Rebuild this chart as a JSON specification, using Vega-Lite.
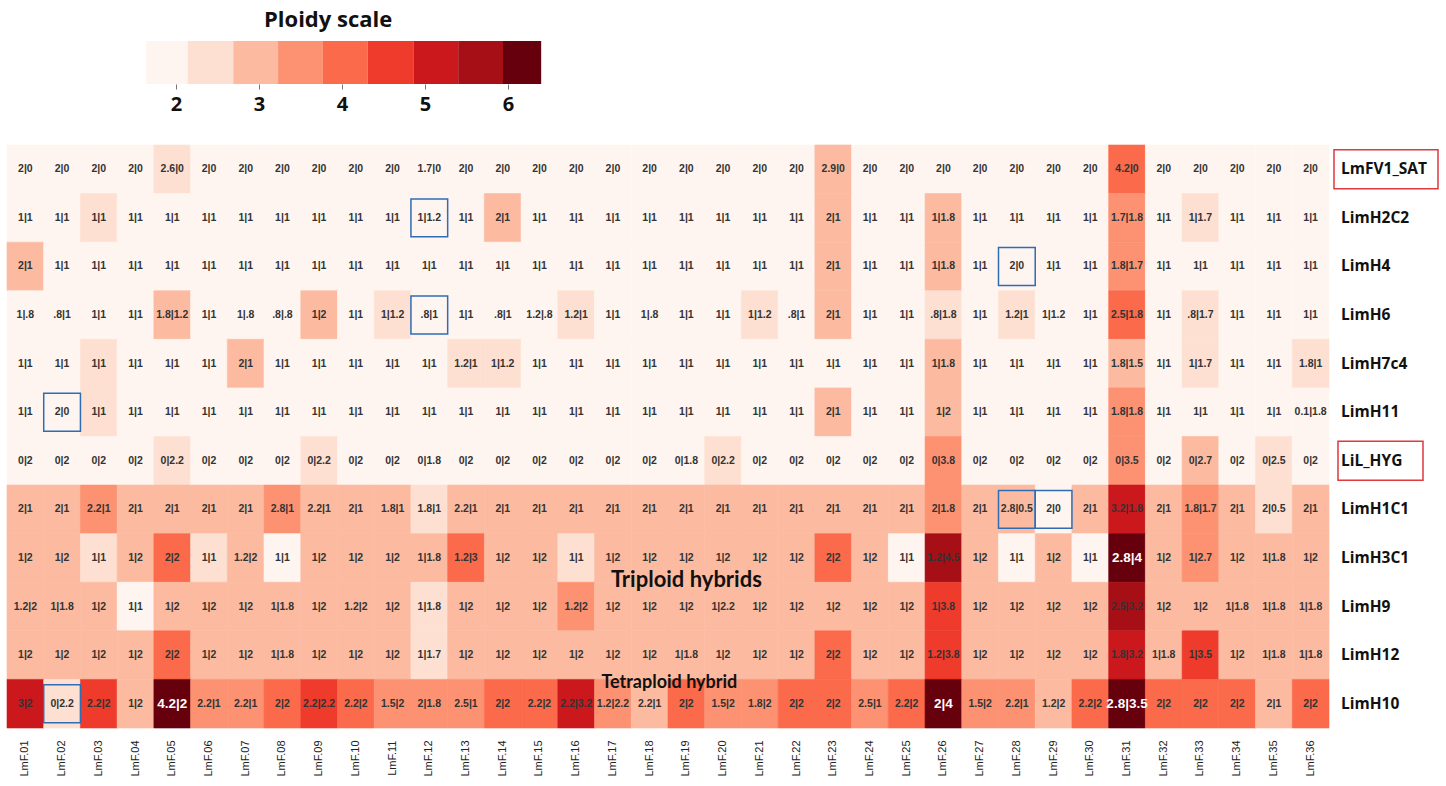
{
"$schema": "https://vega.github.io/schema/vega-lite/v6.json",
"padding": {"left": 6, "top": 9, "right": 0, "bottom": 0},
"background": "white",
"config": {"view": {"stroke": null}},
"spacing": 30,
"datasets": {
"legendbins": [
{"from":1.64,"to":2.14,"ploidy":1.9},{"from":2.14,"to":2.69,"ploidy":2.4},{"from":2.69,"to":3.23,"ploidy":2.96},
{"from":3.23,"to":3.77,"ploidy":3.5},{"from":3.77,"to":4.31,"ploidy":4.04},{"from":4.31,"to":4.86,"ploidy":4.6},
{"from":4.86,"to":5.4,"ploidy":5.13},{"from":5.4,"to":5.94,"ploidy":5.67},{"from":5.94,"to":6.4,"ploidy":6.17}],
"strains": [{"strain":"LmFV1_SAT"},{"strain":"LimH2C2"},{"strain":"LimH4"},{"strain":"LimH6"},{"strain":"LimH7c4"},{"strain":"LimH11"},{"strain":"LiL_HYG"},{"strain":"LimH1C1"},{"strain":"LimH3C1"},{"strain":"LimH9"},{"strain":"LimH12"},{"strain":"LimH10"}],
"cells": [
{"strain":"LmFV1_SAT","sample":"LmF.01","label":"2|0","ploidy":2},{"strain":"LmFV1_SAT","sample":"LmF.02","label":"2|0","ploidy":2},{"strain":"LmFV1_SAT","sample":"LmF.03","label":"2|0","ploidy":2},{"strain":"LmFV1_SAT","sample":"LmF.04","label":"2|0","ploidy":2},{"strain":"LmFV1_SAT","sample":"LmF.05","label":"2.6|0","ploidy":2.6},{"strain":"LmFV1_SAT","sample":"LmF.06","label":"2|0","ploidy":2},{"strain":"LmFV1_SAT","sample":"LmF.07","label":"2|0","ploidy":2},{"strain":"LmFV1_SAT","sample":"LmF.08","label":"2|0","ploidy":2},{"strain":"LmFV1_SAT","sample":"LmF.09","label":"2|0","ploidy":2},{"strain":"LmFV1_SAT","sample":"LmF.10","label":"2|0","ploidy":2},{"strain":"LmFV1_SAT","sample":"LmF.11","label":"2|0","ploidy":2},{"strain":"LmFV1_SAT","sample":"LmF.12","label":"1.7|0","ploidy":1.7},
{"strain":"LmFV1_SAT","sample":"LmF.13","label":"2|0","ploidy":2},{"strain":"LmFV1_SAT","sample":"LmF.14","label":"2|0","ploidy":2},{"strain":"LmFV1_SAT","sample":"LmF.15","label":"2|0","ploidy":2},{"strain":"LmFV1_SAT","sample":"LmF.16","label":"2|0","ploidy":2},{"strain":"LmFV1_SAT","sample":"LmF.17","label":"2|0","ploidy":2},{"strain":"LmFV1_SAT","sample":"LmF.18","label":"2|0","ploidy":2},{"strain":"LmFV1_SAT","sample":"LmF.19","label":"2|0","ploidy":2},{"strain":"LmFV1_SAT","sample":"LmF.20","label":"2|0","ploidy":2},{"strain":"LmFV1_SAT","sample":"LmF.21","label":"2|0","ploidy":2},{"strain":"LmFV1_SAT","sample":"LmF.22","label":"2|0","ploidy":2},{"strain":"LmFV1_SAT","sample":"LmF.23","label":"2.9|0","ploidy":2.9},{"strain":"LmFV1_SAT","sample":"LmF.24","label":"2|0","ploidy":2},
{"strain":"LmFV1_SAT","sample":"LmF.25","label":"2|0","ploidy":2},{"strain":"LmFV1_SAT","sample":"LmF.26","label":"2|0","ploidy":2},{"strain":"LmFV1_SAT","sample":"LmF.27","label":"2|0","ploidy":2},{"strain":"LmFV1_SAT","sample":"LmF.28","label":"2|0","ploidy":2},{"strain":"LmFV1_SAT","sample":"LmF.29","label":"2|0","ploidy":2},{"strain":"LmFV1_SAT","sample":"LmF.30","label":"2|0","ploidy":2},{"strain":"LmFV1_SAT","sample":"LmF.31","label":"4.2|0","ploidy":4.2},{"strain":"LmFV1_SAT","sample":"LmF.32","label":"2|0","ploidy":2},{"strain":"LmFV1_SAT","sample":"LmF.33","label":"2|0","ploidy":2},{"strain":"LmFV1_SAT","sample":"LmF.34","label":"2|0","ploidy":2},{"strain":"LmFV1_SAT","sample":"LmF.35","label":"2|0","ploidy":2},{"strain":"LmFV1_SAT","sample":"LmF.36","label":"2|0","ploidy":2},

{"strain":"LimH2C2","sample":"LmF.01","label":"1|1","ploidy":2},{"strain":"LimH2C2","sample":"LmF.02","label":"1|1","ploidy":2},{"strain":"LimH2C2","sample":"LmF.03","label":"1|1","ploidy":2.4},{"strain":"LimH2C2","sample":"LmF.04","label":"1|1","ploidy":2},{"strain":"LimH2C2","sample":"LmF.05","label":"1|1","ploidy":2},{"strain":"LimH2C2","sample":"LmF.06","label":"1|1","ploidy":2},{"strain":"LimH2C2","sample":"LmF.07","label":"1|1","ploidy":2},{"strain":"LimH2C2","sample":"LmF.08","label":"1|1","ploidy":2},{"strain":"LimH2C2","sample":"LmF.09","label":"1|1","ploidy":2},{"strain":"LimH2C2","sample":"LmF.10","label":"1|1","ploidy":2},{"strain":"LimH2C2","sample":"LmF.11","label":"1|1","ploidy":2},{"strain":"LimH2C2","sample":"LmF.12","label":"1|1.2","ploidy":2,"box":true},
{"strain":"LimH2C2","sample":"LmF.13","label":"1|1","ploidy":2},{"strain":"LimH2C2","sample":"LmF.14","label":"2|1","ploidy":3},{"strain":"LimH2C2","sample":"LmF.15","label":"1|1","ploidy":2},{"strain":"LimH2C2","sample":"LmF.16","label":"1|1","ploidy":2},{"strain":"LimH2C2","sample":"LmF.17","label":"1|1","ploidy":2},{"strain":"LimH2C2","sample":"LmF.18","label":"1|1","ploidy":2},{"strain":"LimH2C2","sample":"LmF.19","label":"1|1","ploidy":2},{"strain":"LimH2C2","sample":"LmF.20","label":"1|1","ploidy":2},{"strain":"LimH2C2","sample":"LmF.21","label":"1|1","ploidy":2},{"strain":"LimH2C2","sample":"LmF.22","label":"1|1","ploidy":2},{"strain":"LimH2C2","sample":"LmF.23","label":"2|1","ploidy":3},{"strain":"LimH2C2","sample":"LmF.24","label":"1|1","ploidy":2},
{"strain":"LimH2C2","sample":"LmF.25","label":"1|1","ploidy":2},{"strain":"LimH2C2","sample":"LmF.26","label":"1|1.8","ploidy":2.8},{"strain":"LimH2C2","sample":"LmF.27","label":"1|1","ploidy":2},{"strain":"LimH2C2","sample":"LmF.28","label":"1|1","ploidy":2},{"strain":"LimH2C2","sample":"LmF.29","label":"1|1","ploidy":2},{"strain":"LimH2C2","sample":"LmF.30","label":"1|1","ploidy":2},{"strain":"LimH2C2","sample":"LmF.31","label":"1.7|1.8","ploidy":3.5},{"strain":"LimH2C2","sample":"LmF.32","label":"1|1","ploidy":2},{"strain":"LimH2C2","sample":"LmF.33","label":"1|1.7","ploidy":2.6},{"strain":"LimH2C2","sample":"LmF.34","label":"1|1","ploidy":2},{"strain":"LimH2C2","sample":"LmF.35","label":"1|1","ploidy":2},{"strain":"LimH2C2","sample":"LmF.36","label":"1|1","ploidy":2},

{"strain":"LimH4","sample":"LmF.01","label":"2|1","ploidy":3},{"strain":"LimH4","sample":"LmF.02","label":"1|1","ploidy":2},{"strain":"LimH4","sample":"LmF.03","label":"1|1","ploidy":2},{"strain":"LimH4","sample":"LmF.04","label":"1|1","ploidy":2},{"strain":"LimH4","sample":"LmF.05","label":"1|1","ploidy":2},{"strain":"LimH4","sample":"LmF.06","label":"1|1","ploidy":2},{"strain":"LimH4","sample":"LmF.07","label":"1|1","ploidy":2},{"strain":"LimH4","sample":"LmF.08","label":"1|1","ploidy":2},{"strain":"LimH4","sample":"LmF.09","label":"1|1","ploidy":2},{"strain":"LimH4","sample":"LmF.10","label":"1|1","ploidy":2},{"strain":"LimH4","sample":"LmF.11","label":"1|1","ploidy":2},{"strain":"LimH4","sample":"LmF.12","label":"1|1","ploidy":2},
{"strain":"LimH4","sample":"LmF.13","label":"1|1","ploidy":2},{"strain":"LimH4","sample":"LmF.14","label":"1|1","ploidy":2},{"strain":"LimH4","sample":"LmF.15","label":"1|1","ploidy":2},{"strain":"LimH4","sample":"LmF.16","label":"1|1","ploidy":2},{"strain":"LimH4","sample":"LmF.17","label":"1|1","ploidy":2},{"strain":"LimH4","sample":"LmF.18","label":"1|1","ploidy":2},{"strain":"LimH4","sample":"LmF.19","label":"1|1","ploidy":2},{"strain":"LimH4","sample":"LmF.20","label":"1|1","ploidy":2},{"strain":"LimH4","sample":"LmF.21","label":"1|1","ploidy":2},{"strain":"LimH4","sample":"LmF.22","label":"1|1","ploidy":2},{"strain":"LimH4","sample":"LmF.23","label":"2|1","ploidy":3},{"strain":"LimH4","sample":"LmF.24","label":"1|1","ploidy":2},
{"strain":"LimH4","sample":"LmF.25","label":"1|1","ploidy":2},{"strain":"LimH4","sample":"LmF.26","label":"1|1.8","ploidy":2.8},{"strain":"LimH4","sample":"LmF.27","label":"1|1","ploidy":2},{"strain":"LimH4","sample":"LmF.28","label":"2|0","ploidy":2,"box":true},{"strain":"LimH4","sample":"LmF.29","label":"1|1","ploidy":2},{"strain":"LimH4","sample":"LmF.30","label":"1|1","ploidy":2},{"strain":"LimH4","sample":"LmF.31","label":"1.8|1.7","ploidy":3.5},{"strain":"LimH4","sample":"LmF.32","label":"1|1","ploidy":2},{"strain":"LimH4","sample":"LmF.33","label":"1|1","ploidy":2},{"strain":"LimH4","sample":"LmF.34","label":"1|1","ploidy":2},{"strain":"LimH4","sample":"LmF.35","label":"1|1","ploidy":2},{"strain":"LimH4","sample":"LmF.36","label":"1|1","ploidy":2},

{"strain":"LimH6","sample":"LmF.01","label":"1|.8","ploidy":1.8},{"strain":"LimH6","sample":"LmF.02","label":".8|1","ploidy":1.8},{"strain":"LimH6","sample":"LmF.03","label":"1|1","ploidy":2},{"strain":"LimH6","sample":"LmF.04","label":"1|1","ploidy":2},{"strain":"LimH6","sample":"LmF.05","label":"1.8|1.2","ploidy":3},{"strain":"LimH6","sample":"LmF.06","label":"1|1","ploidy":2},{"strain":"LimH6","sample":"LmF.07","label":"1|.8","ploidy":1.8},{"strain":"LimH6","sample":"LmF.08","label":".8|.8","ploidy":1.6},{"strain":"LimH6","sample":"LmF.09","label":"1|2","ploidy":3},{"strain":"LimH6","sample":"LmF.10","label":"1|1","ploidy":2},{"strain":"LimH6","sample":"LmF.11","label":"1|1.2","ploidy":2.2},{"strain":"LimH6","sample":"LmF.12","label":".8|1","ploidy":1.8,"box":true},
{"strain":"LimH6","sample":"LmF.13","label":"1|1","ploidy":2},{"strain":"LimH6","sample":"LmF.14","label":".8|1","ploidy":1.8},{"strain":"LimH6","sample":"LmF.15","label":"1.2|.8","ploidy":2},{"strain":"LimH6","sample":"LmF.16","label":"1.2|1","ploidy":2.2},{"strain":"LimH6","sample":"LmF.17","label":"1|1","ploidy":2},{"strain":"LimH6","sample":"LmF.18","label":"1|.8","ploidy":1.8},{"strain":"LimH6","sample":"LmF.19","label":"1|1","ploidy":2},{"strain":"LimH6","sample":"LmF.20","label":"1|1","ploidy":2},{"strain":"LimH6","sample":"LmF.21","label":"1|1.2","ploidy":2.2},{"strain":"LimH6","sample":"LmF.22","label":".8|1","ploidy":1.8},{"strain":"LimH6","sample":"LmF.23","label":"2|1","ploidy":3},{"strain":"LimH6","sample":"LmF.24","label":"1|1","ploidy":2},
{"strain":"LimH6","sample":"LmF.25","label":"1|1","ploidy":2},{"strain":"LimH6","sample":"LmF.26","label":".8|1.8","ploidy":2.6},{"strain":"LimH6","sample":"LmF.27","label":"1|1","ploidy":2},{"strain":"LimH6","sample":"LmF.28","label":"1.2|1","ploidy":2.2},{"strain":"LimH6","sample":"LmF.29","label":"1|1.2","ploidy":2.1},{"strain":"LimH6","sample":"LmF.30","label":"1|1","ploidy":2},{"strain":"LimH6","sample":"LmF.31","label":"2.5|1.8","ploidy":4.2},{"strain":"LimH6","sample":"LmF.32","label":"1|1","ploidy":2},{"strain":"LimH6","sample":"LmF.33","label":".8|1.7","ploidy":2.5},{"strain":"LimH6","sample":"LmF.34","label":"1|1","ploidy":2},{"strain":"LimH6","sample":"LmF.35","label":"1|1","ploidy":2},{"strain":"LimH6","sample":"LmF.36","label":"1|1","ploidy":2},

{"strain":"LimH7c4","sample":"LmF.01","label":"1|1","ploidy":2},{"strain":"LimH7c4","sample":"LmF.02","label":"1|1","ploidy":2},{"strain":"LimH7c4","sample":"LmF.03","label":"1|1","ploidy":2.4},{"strain":"LimH7c4","sample":"LmF.04","label":"1|1","ploidy":2},{"strain":"LimH7c4","sample":"LmF.05","label":"1|1","ploidy":2},{"strain":"LimH7c4","sample":"LmF.06","label":"1|1","ploidy":2},{"strain":"LimH7c4","sample":"LmF.07","label":"2|1","ploidy":3},{"strain":"LimH7c4","sample":"LmF.08","label":"1|1","ploidy":2},{"strain":"LimH7c4","sample":"LmF.09","label":"1|1","ploidy":2},{"strain":"LimH7c4","sample":"LmF.10","label":"1|1","ploidy":2},{"strain":"LimH7c4","sample":"LmF.11","label":"1|1","ploidy":2},{"strain":"LimH7c4","sample":"LmF.12","label":"1|1","ploidy":2},
{"strain":"LimH7c4","sample":"LmF.13","label":"1.2|1","ploidy":2.2},{"strain":"LimH7c4","sample":"LmF.14","label":"1|1.2","ploidy":2.2},{"strain":"LimH7c4","sample":"LmF.15","label":"1|1","ploidy":2},{"strain":"LimH7c4","sample":"LmF.16","label":"1|1","ploidy":2},{"strain":"LimH7c4","sample":"LmF.17","label":"1|1","ploidy":2},{"strain":"LimH7c4","sample":"LmF.18","label":"1|1","ploidy":2},{"strain":"LimH7c4","sample":"LmF.19","label":"1|1","ploidy":2},{"strain":"LimH7c4","sample":"LmF.20","label":"1|1","ploidy":2},{"strain":"LimH7c4","sample":"LmF.21","label":"1|1","ploidy":2},{"strain":"LimH7c4","sample":"LmF.22","label":"1|1","ploidy":2},{"strain":"LimH7c4","sample":"LmF.23","label":"1|1","ploidy":2},{"strain":"LimH7c4","sample":"LmF.24","label":"1|1","ploidy":2},
{"strain":"LimH7c4","sample":"LmF.25","label":"1|1","ploidy":2},{"strain":"LimH7c4","sample":"LmF.26","label":"1|1.8","ploidy":2.8},{"strain":"LimH7c4","sample":"LmF.27","label":"1|1","ploidy":2},{"strain":"LimH7c4","sample":"LmF.28","label":"1|1","ploidy":2},{"strain":"LimH7c4","sample":"LmF.29","label":"1|1","ploidy":2},{"strain":"LimH7c4","sample":"LmF.30","label":"1|1","ploidy":2},{"strain":"LimH7c4","sample":"LmF.31","label":"1.8|1.5","ploidy":3.2},{"strain":"LimH7c4","sample":"LmF.32","label":"1|1","ploidy":2},{"strain":"LimH7c4","sample":"LmF.33","label":"1|1.7","ploidy":2.6},{"strain":"LimH7c4","sample":"LmF.34","label":"1|1","ploidy":2},{"strain":"LimH7c4","sample":"LmF.35","label":"1|1","ploidy":2},{"strain":"LimH7c4","sample":"LmF.36","label":"1.8|1","ploidy":2.6},

{"strain":"LimH11","sample":"LmF.01","label":"1|1","ploidy":2},{"strain":"LimH11","sample":"LmF.02","label":"2|0","ploidy":2,"box":true},{"strain":"LimH11","sample":"LmF.03","label":"1|1","ploidy":2.4},{"strain":"LimH11","sample":"LmF.04","label":"1|1","ploidy":2},{"strain":"LimH11","sample":"LmF.05","label":"1|1","ploidy":2},{"strain":"LimH11","sample":"LmF.06","label":"1|1","ploidy":2},{"strain":"LimH11","sample":"LmF.07","label":"1|1","ploidy":2},{"strain":"LimH11","sample":"LmF.08","label":"1|1","ploidy":2},{"strain":"LimH11","sample":"LmF.09","label":"1|1","ploidy":2},{"strain":"LimH11","sample":"LmF.10","label":"1|1","ploidy":2},{"strain":"LimH11","sample":"LmF.11","label":"1|1","ploidy":2},{"strain":"LimH11","sample":"LmF.12","label":"1|1","ploidy":2},
{"strain":"LimH11","sample":"LmF.13","label":"1|1","ploidy":2},{"strain":"LimH11","sample":"LmF.14","label":"1|1","ploidy":2},{"strain":"LimH11","sample":"LmF.15","label":"1|1","ploidy":2},{"strain":"LimH11","sample":"LmF.16","label":"1|1","ploidy":2},{"strain":"LimH11","sample":"LmF.17","label":"1|1","ploidy":2},{"strain":"LimH11","sample":"LmF.18","label":"1|1","ploidy":2},{"strain":"LimH11","sample":"LmF.19","label":"1|1","ploidy":2},{"strain":"LimH11","sample":"LmF.20","label":"1|1","ploidy":2},{"strain":"LimH11","sample":"LmF.21","label":"1|1","ploidy":2},{"strain":"LimH11","sample":"LmF.22","label":"1|1","ploidy":2},{"strain":"LimH11","sample":"LmF.23","label":"2|1","ploidy":3},{"strain":"LimH11","sample":"LmF.24","label":"1|1","ploidy":2},
{"strain":"LimH11","sample":"LmF.25","label":"1|1","ploidy":2},{"strain":"LimH11","sample":"LmF.26","label":"1|2","ploidy":3},{"strain":"LimH11","sample":"LmF.27","label":"1|1","ploidy":2},{"strain":"LimH11","sample":"LmF.28","label":"1|1","ploidy":2},{"strain":"LimH11","sample":"LmF.29","label":"1|1","ploidy":2},{"strain":"LimH11","sample":"LmF.30","label":"1|1","ploidy":2},{"strain":"LimH11","sample":"LmF.31","label":"1.8|1.8","ploidy":3.6},{"strain":"LimH11","sample":"LmF.32","label":"1|1","ploidy":2},{"strain":"LimH11","sample":"LmF.33","label":"1|1","ploidy":2},{"strain":"LimH11","sample":"LmF.34","label":"1|1","ploidy":2},{"strain":"LimH11","sample":"LmF.35","label":"1|1","ploidy":2},{"strain":"LimH11","sample":"LmF.36","label":"0.1|1.8","ploidy":1.9},

{"strain":"LiL_HYG","sample":"LmF.01","label":"0|2","ploidy":2},{"strain":"LiL_HYG","sample":"LmF.02","label":"0|2","ploidy":2},{"strain":"LiL_HYG","sample":"LmF.03","label":"0|2","ploidy":2},{"strain":"LiL_HYG","sample":"LmF.04","label":"0|2","ploidy":2},{"strain":"LiL_HYG","sample":"LmF.05","label":"0|2.2","ploidy":2.2},{"strain":"LiL_HYG","sample":"LmF.06","label":"0|2","ploidy":2},{"strain":"LiL_HYG","sample":"LmF.07","label":"0|2","ploidy":2},{"strain":"LiL_HYG","sample":"LmF.08","label":"0|2","ploidy":2},{"strain":"LiL_HYG","sample":"LmF.09","label":"0|2.2","ploidy":2.2},{"strain":"LiL_HYG","sample":"LmF.10","label":"0|2","ploidy":2},{"strain":"LiL_HYG","sample":"LmF.11","label":"0|2","ploidy":2},{"strain":"LiL_HYG","sample":"LmF.12","label":"0|1.8","ploidy":1.8},
{"strain":"LiL_HYG","sample":"LmF.13","label":"0|2","ploidy":2},{"strain":"LiL_HYG","sample":"LmF.14","label":"0|2","ploidy":2},{"strain":"LiL_HYG","sample":"LmF.15","label":"0|2","ploidy":2},{"strain":"LiL_HYG","sample":"LmF.16","label":"0|2","ploidy":2},{"strain":"LiL_HYG","sample":"LmF.17","label":"0|2","ploidy":2},{"strain":"LiL_HYG","sample":"LmF.18","label":"0|2","ploidy":2},{"strain":"LiL_HYG","sample":"LmF.19","label":"0|1.8","ploidy":1.8},{"strain":"LiL_HYG","sample":"LmF.20","label":"0|2.2","ploidy":2.2},{"strain":"LiL_HYG","sample":"LmF.21","label":"0|2","ploidy":2},{"strain":"LiL_HYG","sample":"LmF.22","label":"0|2","ploidy":2},{"strain":"LiL_HYG","sample":"LmF.23","label":"0|2","ploidy":2},{"strain":"LiL_HYG","sample":"LmF.24","label":"0|2","ploidy":2},
{"strain":"LiL_HYG","sample":"LmF.25","label":"0|2","ploidy":2},{"strain":"LiL_HYG","sample":"LmF.26","label":"0|3.8","ploidy":3.7},{"strain":"LiL_HYG","sample":"LmF.27","label":"0|2","ploidy":2},{"strain":"LiL_HYG","sample":"LmF.28","label":"0|2","ploidy":2},{"strain":"LiL_HYG","sample":"LmF.29","label":"0|2","ploidy":2},{"strain":"LiL_HYG","sample":"LmF.30","label":"0|2","ploidy":2},{"strain":"LiL_HYG","sample":"LmF.31","label":"0|3.5","ploidy":3.5},{"strain":"LiL_HYG","sample":"LmF.32","label":"0|2","ploidy":2},{"strain":"LiL_HYG","sample":"LmF.33","label":"0|2.7","ploidy":2.8},{"strain":"LiL_HYG","sample":"LmF.34","label":"0|2","ploidy":2},{"strain":"LiL_HYG","sample":"LmF.35","label":"0|2.5","ploidy":2.5},{"strain":"LiL_HYG","sample":"LmF.36","label":"0|2","ploidy":2},

{"strain":"LimH1C1","sample":"LmF.01","label":"2|1","ploidy":3},{"strain":"LimH1C1","sample":"LmF.02","label":"2|1","ploidy":3},{"strain":"LimH1C1","sample":"LmF.03","label":"2.2|1","ploidy":3.3},{"strain":"LimH1C1","sample":"LmF.04","label":"2|1","ploidy":3},{"strain":"LimH1C1","sample":"LmF.05","label":"2|1","ploidy":3},{"strain":"LimH1C1","sample":"LmF.06","label":"2|1","ploidy":3},{"strain":"LimH1C1","sample":"LmF.07","label":"2|1","ploidy":3},{"strain":"LimH1C1","sample":"LmF.08","label":"2.8|1","ploidy":3.7},{"strain":"LimH1C1","sample":"LmF.09","label":"2.2|1","ploidy":3.2},{"strain":"LimH1C1","sample":"LmF.10","label":"2|1","ploidy":3},{"strain":"LimH1C1","sample":"LmF.11","label":"1.8|1","ploidy":2.8},{"strain":"LimH1C1","sample":"LmF.12","label":"1.8|1","ploidy":2.6},
{"strain":"LimH1C1","sample":"LmF.13","label":"2.2|1","ploidy":3.2},{"strain":"LimH1C1","sample":"LmF.14","label":"2|1","ploidy":3},{"strain":"LimH1C1","sample":"LmF.15","label":"2|1","ploidy":3},{"strain":"LimH1C1","sample":"LmF.16","label":"2|1","ploidy":3},{"strain":"LimH1C1","sample":"LmF.17","label":"2|1","ploidy":3},{"strain":"LimH1C1","sample":"LmF.18","label":"2|1","ploidy":3},{"strain":"LimH1C1","sample":"LmF.19","label":"2|1","ploidy":3},{"strain":"LimH1C1","sample":"LmF.20","label":"2|1","ploidy":3},{"strain":"LimH1C1","sample":"LmF.21","label":"2|1","ploidy":3},{"strain":"LimH1C1","sample":"LmF.22","label":"2|1","ploidy":3},{"strain":"LimH1C1","sample":"LmF.23","label":"2|1","ploidy":3},{"strain":"LimH1C1","sample":"LmF.24","label":"2|1","ploidy":3},
{"strain":"LimH1C1","sample":"LmF.25","label":"2|1","ploidy":3},{"strain":"LimH1C1","sample":"LmF.26","label":"2|1.8","ploidy":3.7},{"strain":"LimH1C1","sample":"LmF.27","label":"2|1","ploidy":3},{"strain":"LimH1C1","sample":"LmF.28","label":"2.8|0.5","ploidy":3.2,"box":true},{"strain":"LimH1C1","sample":"LmF.29","label":"2|0","ploidy":2,"box":true},{"strain":"LimH1C1","sample":"LmF.30","label":"2|1","ploidy":3},{"strain":"LimH1C1","sample":"LmF.31","label":"3.2|1.8","ploidy":5},{"strain":"LimH1C1","sample":"LmF.32","label":"2|1","ploidy":3},{"strain":"LimH1C1","sample":"LmF.33","label":"1.8|1.7","ploidy":3.5},{"strain":"LimH1C1","sample":"LmF.34","label":"2|1","ploidy":3},{"strain":"LimH1C1","sample":"LmF.35","label":"2|0.5","ploidy":2.5},{"strain":"LimH1C1","sample":"LmF.36","label":"2|1","ploidy":3},

{"strain":"LimH3C1","sample":"LmF.01","label":"1|2","ploidy":3},{"strain":"LimH3C1","sample":"LmF.02","label":"1|2","ploidy":3},{"strain":"LimH3C1","sample":"LmF.03","label":"1|1","ploidy":2.4},{"strain":"LimH3C1","sample":"LmF.04","label":"1|2","ploidy":3},{"strain":"LimH3C1","sample":"LmF.05","label":"2|2","ploidy":4},{"strain":"LimH3C1","sample":"LmF.06","label":"1|1","ploidy":2.4},{"strain":"LimH3C1","sample":"LmF.07","label":"1.2|2","ploidy":3.2},{"strain":"LimH3C1","sample":"LmF.08","label":"1|1","ploidy":2},{"strain":"LimH3C1","sample":"LmF.09","label":"1|2","ploidy":3},{"strain":"LimH3C1","sample":"LmF.10","label":"1|2","ploidy":3},{"strain":"LimH3C1","sample":"LmF.11","label":"1|2","ploidy":3},{"strain":"LimH3C1","sample":"LmF.12","label":"1|1.8","ploidy":2.8},
{"strain":"LimH3C1","sample":"LmF.13","label":"1.2|3","ploidy":4.2},{"strain":"LimH3C1","sample":"LmF.14","label":"1|2","ploidy":3},{"strain":"LimH3C1","sample":"LmF.15","label":"1|2","ploidy":3},{"strain":"LimH3C1","sample":"LmF.16","label":"1|1","ploidy":2.4},{"strain":"LimH3C1","sample":"LmF.17","label":"1|2","ploidy":3},{"strain":"LimH3C1","sample":"LmF.18","label":"1|2","ploidy":3},{"strain":"LimH3C1","sample":"LmF.19","label":"1|2","ploidy":3},{"strain":"LimH3C1","sample":"LmF.20","label":"1|2","ploidy":3},{"strain":"LimH3C1","sample":"LmF.21","label":"1|2","ploidy":3},{"strain":"LimH3C1","sample":"LmF.22","label":"1|2","ploidy":3},{"strain":"LimH3C1","sample":"LmF.23","label":"2|2","ploidy":4},{"strain":"LimH3C1","sample":"LmF.24","label":"1|2","ploidy":3},
{"strain":"LimH3C1","sample":"LmF.25","label":"1|1","ploidy":2},{"strain":"LimH3C1","sample":"LmF.26","label":"1.2|4.5","ploidy":5.7},{"strain":"LimH3C1","sample":"LmF.27","label":"1|2","ploidy":3},{"strain":"LimH3C1","sample":"LmF.28","label":"1|1","ploidy":2},{"strain":"LimH3C1","sample":"LmF.29","label":"1|2","ploidy":3},{"strain":"LimH3C1","sample":"LmF.30","label":"1|1","ploidy":2},{"strain":"LimH3C1","sample":"LmF.31","label":"2.8|4","ploidy":6.8},{"strain":"LimH3C1","sample":"LmF.32","label":"1|2","ploidy":3},{"strain":"LimH3C1","sample":"LmF.33","label":"1|2.7","ploidy":3.7},{"strain":"LimH3C1","sample":"LmF.34","label":"1|2","ploidy":3},{"strain":"LimH3C1","sample":"LmF.35","label":"1|1.8","ploidy":2.8},{"strain":"LimH3C1","sample":"LmF.36","label":"1|2","ploidy":3},

{"strain":"LimH9","sample":"LmF.01","label":"1.2|2","ploidy":3.2},{"strain":"LimH9","sample":"LmF.02","label":"1|1.8","ploidy":2.8},{"strain":"LimH9","sample":"LmF.03","label":"1|2","ploidy":3},{"strain":"LimH9","sample":"LmF.04","label":"1|1","ploidy":2},{"strain":"LimH9","sample":"LmF.05","label":"1|2","ploidy":3},{"strain":"LimH9","sample":"LmF.06","label":"1|2","ploidy":3},{"strain":"LimH9","sample":"LmF.07","label":"1|2","ploidy":3},{"strain":"LimH9","sample":"LmF.08","label":"1|1.8","ploidy":2.8},{"strain":"LimH9","sample":"LmF.09","label":"1|2","ploidy":3},{"strain":"LimH9","sample":"LmF.10","label":"1.2|2","ploidy":3.2},{"strain":"LimH9","sample":"LmF.11","label":"1|2","ploidy":3},{"strain":"LimH9","sample":"LmF.12","label":"1|1.8","ploidy":2.5},
{"strain":"LimH9","sample":"LmF.13","label":"1|2","ploidy":3},{"strain":"LimH9","sample":"LmF.14","label":"1|2","ploidy":3},{"strain":"LimH9","sample":"LmF.15","label":"1|2","ploidy":3},{"strain":"LimH9","sample":"LmF.16","label":"1.2|2","ploidy":3.5},{"strain":"LimH9","sample":"LmF.17","label":"1|2","ploidy":3},{"strain":"LimH9","sample":"LmF.18","label":"1|2","ploidy":3},{"strain":"LimH9","sample":"LmF.19","label":"1|2","ploidy":3},{"strain":"LimH9","sample":"LmF.20","label":"1|2.2","ploidy":3.2},{"strain":"LimH9","sample":"LmF.21","label":"1|2","ploidy":3},{"strain":"LimH9","sample":"LmF.22","label":"1|2","ploidy":3},{"strain":"LimH9","sample":"LmF.23","label":"1|2","ploidy":3},{"strain":"LimH9","sample":"LmF.24","label":"1|2","ploidy":3},
{"strain":"LimH9","sample":"LmF.25","label":"1|2","ploidy":3},{"strain":"LimH9","sample":"LmF.26","label":"1|3.8","ploidy":4.8},{"strain":"LimH9","sample":"LmF.27","label":"1|2","ploidy":3},{"strain":"LimH9","sample":"LmF.28","label":"1|2","ploidy":3},{"strain":"LimH9","sample":"LmF.29","label":"1|2","ploidy":3},{"strain":"LimH9","sample":"LmF.30","label":"1|2","ploidy":3},{"strain":"LimH9","sample":"LmF.31","label":"2.5|3.2","ploidy":5.7},{"strain":"LimH9","sample":"LmF.32","label":"1|2","ploidy":3},{"strain":"LimH9","sample":"LmF.33","label":"1|2","ploidy":3},{"strain":"LimH9","sample":"LmF.34","label":"1|1.8","ploidy":2.8},{"strain":"LimH9","sample":"LmF.35","label":"1|1.8","ploidy":2.8},{"strain":"LimH9","sample":"LmF.36","label":"1|1.8","ploidy":2.8},

{"strain":"LimH12","sample":"LmF.01","label":"1|2","ploidy":3},{"strain":"LimH12","sample":"LmF.02","label":"1|2","ploidy":3},{"strain":"LimH12","sample":"LmF.03","label":"1|2","ploidy":3},{"strain":"LimH12","sample":"LmF.04","label":"1|2","ploidy":3},{"strain":"LimH12","sample":"LmF.05","label":"2|2","ploidy":4},{"strain":"LimH12","sample":"LmF.06","label":"1|2","ploidy":3},{"strain":"LimH12","sample":"LmF.07","label":"1|2","ploidy":3},{"strain":"LimH12","sample":"LmF.08","label":"1|1.8","ploidy":2.8},{"strain":"LimH12","sample":"LmF.09","label":"1|2","ploidy":3},{"strain":"LimH12","sample":"LmF.10","label":"1|2","ploidy":3},{"strain":"LimH12","sample":"LmF.11","label":"1|2","ploidy":3},{"strain":"LimH12","sample":"LmF.12","label":"1|1.7","ploidy":2.5},
{"strain":"LimH12","sample":"LmF.13","label":"1|2","ploidy":3},{"strain":"LimH12","sample":"LmF.14","label":"1|2","ploidy":3},{"strain":"LimH12","sample":"LmF.15","label":"1|2","ploidy":3},{"strain":"LimH12","sample":"LmF.16","label":"1|2","ploidy":3},{"strain":"LimH12","sample":"LmF.17","label":"1|2","ploidy":3},{"strain":"LimH12","sample":"LmF.18","label":"1|2","ploidy":3},{"strain":"LimH12","sample":"LmF.19","label":"1|1.8","ploidy":2.8},{"strain":"LimH12","sample":"LmF.20","label":"1|2","ploidy":3},{"strain":"LimH12","sample":"LmF.21","label":"1|2","ploidy":3},{"strain":"LimH12","sample":"LmF.22","label":"1|2","ploidy":3},{"strain":"LimH12","sample":"LmF.23","label":"2|2","ploidy":4},{"strain":"LimH12","sample":"LmF.24","label":"1|2","ploidy":3},
{"strain":"LimH12","sample":"LmF.25","label":"1|2","ploidy":3},{"strain":"LimH12","sample":"LmF.26","label":"1.2|3.8","ploidy":4.7},{"strain":"LimH12","sample":"LmF.27","label":"1|2","ploidy":3},{"strain":"LimH12","sample":"LmF.28","label":"1|2","ploidy":3},{"strain":"LimH12","sample":"LmF.29","label":"1|2","ploidy":3},{"strain":"LimH12","sample":"LmF.30","label":"1|2","ploidy":3},{"strain":"LimH12","sample":"LmF.31","label":"1.8|3.2","ploidy":5},{"strain":"LimH12","sample":"LmF.32","label":"1|1.8","ploidy":2.8},{"strain":"LimH12","sample":"LmF.33","label":"1|3.5","ploidy":4.5},{"strain":"LimH12","sample":"LmF.34","label":"1|2","ploidy":3},{"strain":"LimH12","sample":"LmF.35","label":"1|1.8","ploidy":2.8},{"strain":"LimH12","sample":"LmF.36","label":"1|1.8","ploidy":2.8},

{"strain":"LimH10","sample":"LmF.01","label":"3|2","ploidy":5},{"strain":"LimH10","sample":"LmF.02","label":"0|2.2","ploidy":2.4,"box":true},{"strain":"LimH10","sample":"LmF.03","label":"2.2|2","ploidy":4.5},{"strain":"LimH10","sample":"LmF.04","label":"1|2","ploidy":3},{"strain":"LimH10","sample":"LmF.05","label":"4.2|2","ploidy":6.2},{"strain":"LimH10","sample":"LmF.06","label":"2.2|1","ploidy":3.4},{"strain":"LimH10","sample":"LmF.07","label":"2.2|1","ploidy":3.4},{"strain":"LimH10","sample":"LmF.08","label":"2|2","ploidy":4},{"strain":"LimH10","sample":"LmF.09","label":"2.2|2.2","ploidy":4.4},{"strain":"LimH10","sample":"LmF.10","label":"2.2|2","ploidy":4.2},{"strain":"LimH10","sample":"LmF.11","label":"1.5|2","ploidy":3.5},{"strain":"LimH10","sample":"LmF.12","label":"2|1.8","ploidy":3.7},
{"strain":"LimH10","sample":"LmF.13","label":"2.5|1","ploidy":3.5},{"strain":"LimH10","sample":"LmF.14","label":"2|2","ploidy":4},{"strain":"LimH10","sample":"LmF.15","label":"2.2|2","ploidy":4.2},{"strain":"LimH10","sample":"LmF.16","label":"2.2|3.2","ploidy":5.3},{"strain":"LimH10","sample":"LmF.17","label":"1.2|2.2","ploidy":3.4},{"strain":"LimH10","sample":"LmF.18","label":"2.2|1","ploidy":3.2},{"strain":"LimH10","sample":"LmF.19","label":"2|2","ploidy":4},{"strain":"LimH10","sample":"LmF.20","label":"1.5|2","ploidy":3.5},{"strain":"LimH10","sample":"LmF.21","label":"1.8|2","ploidy":3.7},{"strain":"LimH10","sample":"LmF.22","label":"2|2","ploidy":4},{"strain":"LimH10","sample":"LmF.23","label":"2|2","ploidy":4},{"strain":"LimH10","sample":"LmF.24","label":"2.5|1","ploidy":3.5},
{"strain":"LimH10","sample":"LmF.25","label":"2.2|2","ploidy":4.2},{"strain":"LimH10","sample":"LmF.26","label":"2|4","ploidy":6},{"strain":"LimH10","sample":"LmF.27","label":"1.5|2","ploidy":3.5},{"strain":"LimH10","sample":"LmF.28","label":"2.2|1","ploidy":3.4},{"strain":"LimH10","sample":"LmF.29","label":"1.2|2","ploidy":3.2},{"strain":"LimH10","sample":"LmF.30","label":"2.2|2","ploidy":4.2},{"strain":"LimH10","sample":"LmF.31","label":"2.8|3.5","ploidy":6.3},{"strain":"LimH10","sample":"LmF.32","label":"2|2","ploidy":4},{"strain":"LimH10","sample":"LmF.33","label":"2|2","ploidy":4},{"strain":"LimH10","sample":"LmF.34","label":"2|2","ploidy":4},{"strain":"LimH10","sample":"LmF.35","label":"2|1","ploidy":3},{"strain":"LimH10","sample":"LmF.36","label":"2|2","ploidy":4}
]
},
"vconcat": [
{
"width": 1322,
"height": 43,
"data": {"name": "legendbins"},
"title": {"text": "Ploidy scale", "anchor": "start", "dx": 257, "fontSize": 22, "font": "Open Sans", "fontWeight": "bold", "color": "#111111", "offset": 9},
"mark": {"type": "rect"},
"encoding": {
"x": {"field": "from", "type": "quantitative", "scale": {"domain": [-0.036, 15.892], "nice": false, "zero": false},
"axis": {"values": [2, 3, 4, 5, 6], "title": null, "domain": false, "grid": false, "tickSize": 5, "tickColor": "#777777", "labelFontSize": 20, "labelFont": "Open Sans", "labelFontWeight": "bold", "labelColor": "#111111", "labelPadding": 5}},
"x2": {"field": "to"},
"color": {"field": "ploidy", "type": "quantitative", "legend": null,
"scale": {"type": "threshold", "domain": [2.15, 2.7, 3.23, 3.77, 4.3, 4.85, 5.4, 5.9], "range": ["#fff5f0", "#fee0d2", "#fcbba1", "#fc9272", "#fb6a4a", "#ef3b2c", "#cb181d", "#a50f15", "#67000d"]}}
}
},
{
"spacing": 0,
"hconcat": [
{
"width": 1322,
"height": 583,
"data": {"name": "cells"},
"encoding": {
"x": {"field": "sample", "type": "nominal", "axis": {"title": null, "labelAngle": 270, "labelFontSize": 11, "labelFont": "Liberation Sans", "labelColor": "#222222", "ticks": false, "domain": false, "labelPadding": 12}},
"y": {"field": "strain", "type": "nominal", "axis": null, "sort": ["LmFV1_SAT", "LimH2C2", "LimH4", "LimH6", "LimH7c4", "LimH11", "LiL_HYG", "LimH1C1", "LimH3C1", "LimH9", "LimH12", "LimH10"]}
},
"layer": [
{"mark": {"type": "rect", "strokeWidth": 0.6},
"encoding": {"color": {"field": "ploidy", "type": "quantitative", "legend": null,
"scale": {"type": "threshold", "domain": [2.15, 2.7, 3.23, 3.77, 4.3, 4.85, 5.4, 5.9], "range": ["#fff5f0", "#fee0d2", "#fcbba1", "#fc9272", "#fb6a4a", "#ef3b2c", "#cb181d", "#a50f15", "#67000d"]}},
"stroke": {"field": "ploidy", "type": "quantitative", "legend": null,
"scale": {"type": "threshold", "domain": [2.15, 2.7, 3.23, 3.77, 4.3, 4.85, 5.4, 5.9], "range": ["#fff5f0", "#fee0d2", "#fcbba1", "#fc9272", "#fb6a4a", "#ef3b2c", "#cb181d", "#a50f15", "#67000d"]}}}},
{"mark": {"type": "text", "font": "Liberation Sans", "fontWeight": "bold"},
"encoding": {"text": {"field": "label"},
"color": {"condition": {"test": "datum.ploidy > 5.9", "value": "#ffffff"}, "value": "#333333"},
"size": {"condition": {"test": "datum.ploidy > 5.9", "value": 13.5}, "value": 10.5}}},
{"transform": [{"filter": "datum.box"}],
"mark": {"type": "rect", "filled": false, "stroke": "#2e6db4", "strokeWidth": 1.5, "height": {"band": 0.78}}},
{"data": {"values": [{"note": "Triploid hybrids"}]},
"mark": {"type": "text", "font": "Lato", "fontWeight": "bold", "fontSize": 22, "color": "#111111", "dy": 22},
"encoding": {"x": {"datum": "LmF.19"}, "y": {"datum": "LimH3C1"}, "text": {"field": "note"}}},
{"data": {"values": [{"note": "Tetraploid hybrid"}]},
"mark": {"type": "text", "font": "Lato", "fontWeight": "bold", "fontSize": 18, "color": "#111111", "dy": -21, "dx": -17},
"encoding": {"x": {"datum": "LmF.19"}, "y": {"datum": "LimH10"}, "text": {"field": "note"}}}
]
},
{
"width": 118,
"height": 583,
"data": {"name": "strains"},
"encoding": {
"y": {"field": "strain", "type": "nominal", "axis": null, "sort": ["LmFV1_SAT", "LimH2C2", "LimH4", "LimH6", "LimH7c4", "LimH11", "LiL_HYG", "LimH1C1", "LimH3C1", "LimH9", "LimH12", "LimH10"], "scale": {"paddingInner": 0.2, "paddingOuter": 0.1}}
},
"layer": [
{"mark": {"type": "text", "align": "left", "font": "Open Sans", "fontWeight": "bold", "fontSize": 15.5, "color": "#111111"},
"encoding": {"x": {"datum": 11, "type": "quantitative", "scale": {"domain": [0, 118], "nice": false}, "axis": null}, "text": {"field": "strain"}}},
{"transform": [{"filter": "datum.strain === 'LmFV1_SAT'"}],
"mark": {"type": "rect", "filled": false, "stroke": "#e0393e", "strokeWidth": 1.5},
"encoding": {"x": {"datum": 4, "type": "quantitative"}, "x2": {"datum": 108}}},
{"transform": [{"filter": "datum.strain === 'LiL_HYG'"}],
"mark": {"type": "rect", "filled": false, "stroke": "#e0393e", "strokeWidth": 1.5},
"encoding": {"x": {"datum": 8, "type": "quantitative"}, "x2": {"datum": 93}}}
]
}
]
}
]
}
